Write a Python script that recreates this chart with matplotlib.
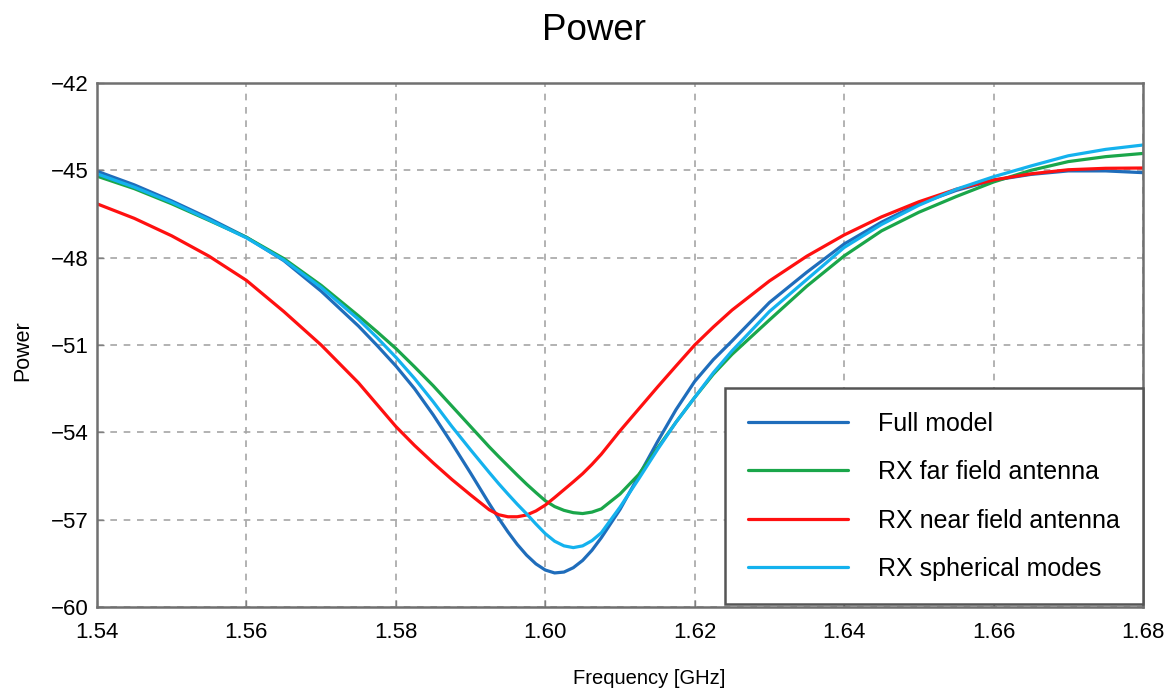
import matplotlib
matplotlib.use("Agg")
import matplotlib.pyplot as plt
from matplotlib.ticker import FuncFormatter

plt.rcParams['font.family'] = ['Liberation Sans', 'DejaVu Sans']

freq = [1.540, 1.545, 1.550, 1.555, 1.560, 1.565, 1.570, 1.575, 1.5775, 1.580,
        1.5825, 1.585, 1.5875, 1.590, 1.5925, 1.59375, 1.595, 1.59625, 1.5975, 1.59875,
        1.600, 1.60125, 1.6025, 1.60375, 1.605, 1.60625, 1.6075, 1.610, 1.6125, 1.615,
        1.6175, 1.620, 1.6225, 1.625, 1.630, 1.635, 1.640, 1.645, 1.650, 1.655,
        1.660, 1.665, 1.670, 1.675, 1.680]

full_model = [-45.03, -45.50, -46.05, -46.65, -47.30, -48.10, -49.15, -50.35, -51.02, -51.72,
              -52.50, -53.40, -54.38, -55.40, -56.45, -56.95, -57.42, -57.85, -58.22, -58.52,
              -58.73, -58.83, -58.80, -58.65, -58.40, -58.05, -57.62, -56.65, -55.50, -54.33,
              -53.22, -52.25, -51.50, -50.86, -49.54, -48.50, -47.53, -46.78, -46.15, -45.69,
              -45.34, -45.14, -45.02, -45.02, -45.08]

rx_far = [-45.20, -45.63, -46.15, -46.72, -47.30, -48.03, -48.95, -50.00, -50.55, -51.12,
          -51.75, -52.40, -53.10, -53.80, -54.50, -54.83, -55.15, -55.47, -55.78, -56.07,
          -56.35, -56.55, -56.68, -56.76, -56.79, -56.74, -56.63, -56.12, -55.45, -54.55,
          -53.65, -52.80, -52.00, -51.32, -50.14, -48.98, -47.94, -47.08, -46.44, -45.90,
          -45.40, -45.00, -44.70, -44.53, -44.42]

rx_near = [-46.15, -46.65, -47.25, -47.95, -48.78, -49.85, -51.00, -52.30, -53.05, -53.80,
           -54.45, -55.05, -55.62, -56.15, -56.66, -56.83, -56.90, -56.90, -56.84, -56.70,
           -56.50, -56.24, -55.97, -55.70, -55.42, -55.10, -54.75, -53.95, -53.20, -52.45,
           -51.72, -51.00, -50.38, -49.80, -48.80, -47.95, -47.22, -46.60, -46.08, -45.65,
           -45.33, -45.12, -44.98, -44.93, -44.92]

rx_sph = [-45.12, -45.58, -46.10, -46.70, -47.32, -48.08, -49.02, -50.12, -50.75, -51.42,
          -52.15, -52.95, -53.80, -54.60, -55.38, -55.76, -56.12, -56.47, -56.80, -57.15,
          -57.48, -57.74, -57.90, -57.96, -57.90, -57.72, -57.45, -56.57, -55.60, -54.60,
          -53.65, -52.80, -51.95, -51.20, -49.85, -48.75, -47.65, -46.86, -46.20, -45.65,
          -45.22, -44.85, -44.50, -44.28, -44.13]

series = [("Full model", full_model, "#1f6dbb"),
          ("RX far field antenna", rx_far, "#1aa64a"),
          ("RX near field antenna", rx_near, "#ff1010"),
          ("RX spherical modes", rx_sph, "#14b2ee")]

xticks = [1.54, 1.56, 1.58, 1.60, 1.62, 1.64, 1.66, 1.68]
yticks = [-60, -57, -54, -51, -48, -45, -42]

fig = plt.figure(figsize=(11.75, 7.0), dpi=100)
ax = fig.add_axes([97/1175, 1-607/700, (1143-97)/1175, (607-83)/700])

for label, vals, col in series:
    ax.plot(freq, vals, color=col, lw=2.3, label=label,
            solid_capstyle='round', solid_joinstyle='round')

ax.set_xlim(1.54, 1.68)
ax.set_ylim(-60, -42)
ax.set_xticks(xticks)
ax.set_yticks(yticks)
ax.xaxis.set_major_formatter(FuncFormatter(lambda v, p: f"{v:.2f}"))
ax.yaxis.set_major_formatter(FuncFormatter(lambda v, p: f"{v:.0f}".replace("-", "\u2212")))
ax.grid(True, color='#a6a6a6', linestyle=(0, (4, 4)), linewidth=1.2)
ax.tick_params(direction='in', length=5, width=1, color='#808080', labelsize=16)
ax.tick_params(axis='x', pad=11)
ax.tick_params(axis='y', pad=6)
for s in ax.spines.values():
    s.set_color('#707070')
    s.set_linewidth(1.8)

fig.text(594/1175, 1 - 40/700, "Power", fontsize=26.5, ha='center', va='baseline')
ax.set_xlabel("Frequency [GHz]", fontsize=14.5)
ax.xaxis.set_label_coords(0.528, -0.118)
ax.set_ylabel("Power", fontsize=15.5)
ax.yaxis.set_label_coords(-0.061, 0.49)

leg = ax.legend(loc='lower right', bbox_to_anchor=(1.0, 0.005), borderaxespad=0.0,
                fontsize=18, handlelength=4.0, handletextpad=1.2, labelspacing=0.98,
                borderpad=0.93, fancybox=False, framealpha=1.0, edgecolor='#555555')
leg.get_frame().set_linewidth(1.8)

fig.savefig("out.png", dpi=100)
